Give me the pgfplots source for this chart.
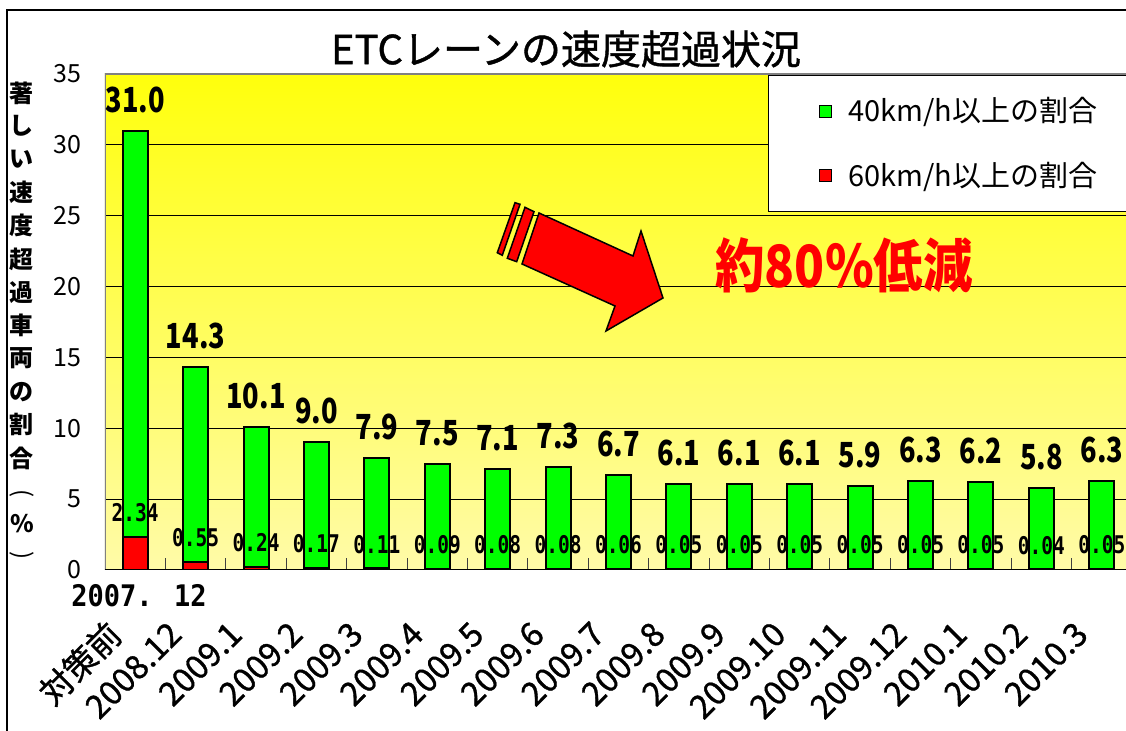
\documentclass[border=0pt]{standalone}
\usepackage{pgfplots}
\pgfplotsset{compat=1.18}
\usepackage{pgfplotstable}
\usepackage{graphicx}
\usepackage{fontspec}
\setmainfont{Noto Sans CJK JP}
\newfontfamily\jpmid{Noto Sans CJK JP}[FakeBold=1]
\newfontfamily\monofont{DejaVu Sans Mono}

\definecolor{skytop}{RGB}{255,255,12}
\definecolor{skybot}{RGB}{255,251,168}
\definecolor{bargreen}{RGB}{0,255,0}
\definecolor{barred}{RGB}{255,0,0}
\definecolor{framegray}{RGB}{128,128,128}

% share of vehicles at 40 km/h and 60 km/h or more over the limit (%)
\pgfplotstableread{
idx over40 over60
0  31.0 2.34
1  14.3 0.55
2  10.1 0.24
3  9.0  0.17
4  7.9  0.11
5  7.5  0.09
6  7.1  0.08
7  7.3  0.08
8  6.7  0.06
9  6.1  0.05
10 6.1  0.05
11 6.1  0.05
12 5.9  0.05
13 6.3  0.05
14 6.2  0.05
15 5.8  0.04
16 6.3  0.05
}\speeddata

\begin{document}
\begin{tikzpicture}[x=0.5pt,y=0.5pt]
% outer chart frame
\draw[black, line width=1pt] (7,-20) rectangle (1300,721);

\begin{axis}[
  at={(52.5pt,80.5pt)}, anchor=south west,
  scale only axis, width=513.5pt, height=248pt,
  xmin=-0.5, xmax=16.5, ymin=0, ymax=35,
  axis background/.style={top color=skytop, bottom color=skybot},
  axis line style={draw=none},
  ybar,
  /pgf/number format/assume math mode=true,
  ytick={0,5,...,35},
  ymajorgrids, major grid style={black, line width=0.5pt},
  yticklabel style={font=\fontsize{12.5pt}{12.5pt}\selectfont, inner sep=0pt, xshift=-11.5pt},
  xtick={0,...,16},
  xticklabels={対策前,2008.12,2009.1,2009.2,2009.3,2009.4,2009.5,2009.6,2009.7,2009.8,2009.9,2009.10,2009.11,2009.12,2010.1,2010.2,2010.3},
  xticklabel style={font=\jpmid\fontsize{16.5pt}{16.5pt}\selectfont, inner sep=0pt, xshift=-10pt, yshift=-29pt, rotate=45, anchor=east},
  minor xtick={0.5,1.5,...,15.5},
  major tick length=0pt, minor tick length=6pt,
  tick align=inside, tick pos=left,
  minor tick style={black!75, line width=0.5pt},
  legend image code/.code={\draw[#1, line width=0.5pt] (0pt,-3pt) rectangle (6pt,3pt);},
  legend cell align=left,
  legend style={at={(0.6456,0.998)}, anchor=north west, draw=black, line width=0.5pt, fill=white,
    inner xsep=25pt, inner ysep=9pt, row sep=14.5pt,
    font=\fontsize{14.5pt}{14.5pt}\selectfont,
    /tikz/every odd column/.append style={column sep=6.5pt}},
]
\addplot[bar shift=0pt, bar width=12.5pt, fill=bargreen, draw=black, line width=1pt,
  point meta=y,
  nodes near coords={\scalebox{0.85}[1.08]{\pgfmathprintnumber[fixed,fixed zerofill,precision=1]{\pgfplotspointmeta}}},
  nodes near coords style={font=\bfseries\fontsize{16pt}{16pt}\selectfont, anchor=south, inner sep=0pt, yshift=8.5pt, text=black}]
  table[x=idx, y=over40]{\speeddata};
\addlegendentry{40km/h以上の割合}
\addplot[bar shift=0pt, bar width=12.5pt, fill=barred, draw=black, line width=1pt,
  point meta=y,
  nodes near coords={\scalebox{1}[1.25]{\pgfmathprintnumber[fixed,fixed zerofill,precision=2]{\pgfplotspointmeta}}},
  nodes near coords style={font=\monofont\bfseries\fontsize{9.75pt}{9.75pt}\selectfont, anchor=south, inner sep=0pt, yshift=7pt, text=black}]
  table[x=idx, y=over60]{\speeddata};
\addlegendentry{60km/h以上の割合}
% plot-area border
\draw[framegray, line width=1.25pt] (rel axis cs:0,0) -- (rel axis cs:0,1) -- (rel axis cs:1,1);
\draw[black, line width=1pt] (rel axis cs:0,0) -- (rel axis cs:1,0);
\end{axis}

% title
\node[font=\jpmid\fontsize{20pt}{20pt}\selectfont] at (566,682) {ETCレーンの速度超過状況};

% vertical axis title, one character per row
\foreach \ch/\yy in {著/93, し/126.2, い/159.4, 速/192.6, 度/225.8, 超/259, 過/292.2, 車/325.4, 両/358.6, の/391.8, 割/425, 合/458.2, \%/524}
  \node[font=\bfseries\fontsize{12pt}{12pt}\selectfont, inner sep=0pt] at (22,{731-\yy}) {\ch};
\node[font=\fontsize{12pt}{12pt}\selectfont, inner sep=0pt] at (22,{731-494}) {\rotatebox{-90}{(}};
\node[font=\fontsize{12pt}{12pt}\selectfont, inner sep=0pt] at (22,{731-556}) {\rotatebox{-90}{)}};

% date under the first category
\node[font=\monofont\bfseries\fontsize{13.5pt}{13.5pt}\selectfont] at (139,135) {\scalebox{1}[1.1]{2007. 12}};

% reduction arrow
\draw[fill=barred, line width=0.75pt, line join=miter]
  (539,518) -- (633,475) -- (641,500) -- (663,433) -- (606,400) -- (615,425) -- (522,467) -- cycle;
\draw[fill=barred, line width=0.75pt] (525,523.7) -- (534,519.3) -- (516.7,469.3) -- (507.3,472.7) -- cycle;
\draw[fill=barred, line width=0.75pt] (515,528.3) -- (520,526.7) -- (502.3,475.7) -- (497.3,478.3) -- cycle;
\node[text=barred, font=\bfseries\fontsize{26pt}{26pt}\selectfont] at (844,466) {\scalebox{0.95}[1.12]{約80\%低減}};

\pgfresetboundingbox
\useasboundingbox (0,0) rectangle (1126,731);
\end{tikzpicture}
\end{document}
